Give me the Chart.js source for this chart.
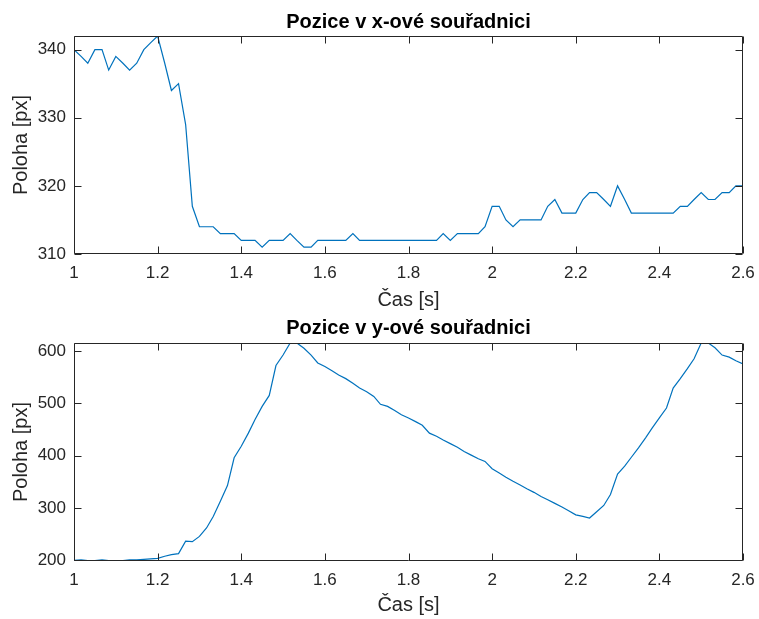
<!DOCTYPE html>
<html>
<head>
<meta charset="utf-8">
<script src="https://cdn.jsdelivr.net/npm/chart.js@4/dist/chart.umd.min.js"></script>
<style>
  html, body { margin: 0; padding: 0; background: #fff; }
  .panel { position: absolute; left: 0; }
  canvas { display: block; }
</style>
</head>
<body>
<div class="panel" style="top:0"><canvas id="chart-x" width="759" height="310"></canvas></div>
<div class="panel" style="top:310px"><canvas id="chart-y" width="759" height="309"></canvas></div>
<script>
// frame times [s]
const casS = [
  1.000, 1.017, 1.033, 1.050, 1.067, 1.083, 1.100, 1.117, 1.133, 1.150, 1.167, 1.183,
  1.200, 1.217, 1.233, 1.250, 1.267, 1.283, 1.300, 1.317, 1.333, 1.350, 1.367, 1.383,
  1.400, 1.417, 1.433, 1.450, 1.467, 1.483, 1.500, 1.517, 1.533, 1.550, 1.567, 1.583,
  1.600, 1.617, 1.633, 1.650, 1.667, 1.683, 1.700, 1.717, 1.733, 1.750, 1.767, 1.783,
  1.800, 1.817, 1.833, 1.850, 1.867, 1.883, 1.900, 1.917, 1.933, 1.950, 1.967, 1.983,
  2.000, 2.017, 2.033, 2.050, 2.067, 2.083, 2.100, 2.117, 2.133, 2.150, 2.167, 2.183,
  2.200, 2.217, 2.233, 2.250, 2.267, 2.283, 2.300, 2.317, 2.333, 2.350, 2.367, 2.383,
  2.400, 2.417, 2.433, 2.450, 2.467, 2.483, 2.500, 2.517, 2.533, 2.550, 2.567, 2.583,
  2.600
];

// position in x [px]
const polohaX = [
  340, 339, 338, 340, 340, 337, 339, 338, 337, 338, 340, 341,
  342, 338, 334, 335, 329, 317, 314, 314, 314, 313, 313, 313,
  312, 312, 312, 311, 312, 312, 312, 313, 312, 311, 311, 312,
  312, 312, 312, 312, 313, 312, 312, 312, 312, 312, 312, 312,
  312, 312, 312, 312, 312, 313, 312, 313, 313, 313, 313, 314,
  317, 317, 315, 314, 315, 315, 315, 315, 317, 318, 316, 316,
  316, 318, 319, 319, 318, 317, 320, 318, 316, 316, 316, 316,
  316, 316, 316, 317, 317, 318, 319, 318, 318, 319, 319, 320,
  320
];

// position in y [px]
const polohaY = [
  200, 201, 200, 200, 201, 200, 200, 200, 201, 201, 202, 203,
  204, 208, 211, 213, 237, 236, 246, 262, 284, 313, 343, 396,
  418, 443, 469, 494, 515, 572, 592, 615, 615, 605, 592, 577,
  570, 562, 554, 547, 538, 529, 522, 513, 498, 494, 486, 478,
  472, 465, 458, 443, 437, 430, 423, 416, 408, 401, 394, 389,
  375, 367, 359, 351, 344, 337, 330, 322, 316, 309, 302, 295,
  287, 284, 281, 293, 305, 326, 365, 380, 397, 415, 434, 453,
  472, 491, 529, 547, 566, 585, 615, 615, 606, 592, 588, 581,
  575
];

const casTicks = [1, 1.2, 1.4, 1.6, 1.8, 2, 2.2, 2.4, 2.6];
const xTicks = [310, 320, 330, 340];
const yTicks = [200, 300, 400, 500, 600];

const AXIS_COLOR = '#262626';
const FONT = '"Liberation Sans", Arial, Helvetica, sans-serif';

// MATLAB-like box with inward ticks on all four sides
const boxPlugin = {
  id: 'box',
  afterDatasetsDraw(chart) {
    const { ctx, chartArea: a, scales: { x, y } } = chart;
    const L = Math.round(a.left) + 0.5, R = Math.round(a.right) - 0.5;
    const T = Math.round(a.top) + 0.5, B = Math.round(a.bottom) - 0.5;
    const len = 7;
    ctx.save();
    ctx.strokeStyle = AXIS_COLOR;
    ctx.lineWidth = 1;
    ctx.beginPath();
    ctx.rect(L, T, R - L, B - T);
    x.ticks.forEach(t => {
      const px = Math.round(x.getPixelForValue(t.value)) + 0.5;
      ctx.moveTo(px, B); ctx.lineTo(px, B - len);
      ctx.moveTo(px, T); ctx.lineTo(px, T + len);
    });
    y.ticks.forEach(t => {
      const py = Math.round(y.getPixelForValue(t.value)) + 0.5;
      ctx.moveTo(L, py); ctx.lineTo(L + len, py);
      ctx.moveTo(R, py); ctx.lineTo(R - len, py);
    });
    ctx.stroke();
    ctx.restore();
  }
};

function makeChart(id, title, values, yMin, yMax, yTickValues, titlePad, xHeight, xTitlePad) {
  return new Chart(document.getElementById(id), {
    type: 'line',
    data: {
      datasets: [{
        data: casS.map((t, i) => ({ x: t, y: values[i] })),
        borderColor: '#0072BD',
        borderWidth: 1.2,
        pointRadius: 0,
        tension: 0,
        fill: false,
      }],
    },
    options: {
      responsive: false,
      animation: false,
      events: [],
      layout: { padding: { left: 0, right: 16, top: 0, bottom: 0 } },
      plugins: {
        legend: { display: false },
        tooltip: { enabled: false },
        title: {
          display: true,
          fullSize: false,
          text: title,
          color: '#000',
          font: { family: FONT, size: 20, weight: 'bold', lineHeight: 1 },
          padding: titlePad,
        },
      },
      scales: {
        x: {
          type: 'linear',
          min: 1,
          max: 2.6,
          afterBuildTicks: s => { s.ticks = casTicks.map(v => ({ value: v })); },
          afterFit: s => { s.height = xHeight; s.paddingLeft = 0; s.paddingRight = 0; },
          grid: { display: false, drawTicks: false },
          border: { display: false },
          ticks: {
            autoSkip: false,
            maxRotation: 0,
            padding: 9,
            color: AXIS_COLOR,
            font: { family: FONT, size: 17 },
            callback: v => String(Math.round(v * 10) / 10),
          },
          title: {
            display: true,
            text: 'Čas [s]',
            color: AXIS_COLOR,
            font: { family: FONT, size: 20, lineHeight: 1 },
            padding: { top: 0, bottom: xTitlePad },
          },
        },
        y: {
          min: yMin,
          max: yMax,
          afterBuildTicks: s => { s.ticks = yTickValues.map(v => ({ value: v })); },
          afterFit: s => { s.width = 74; },
          grid: { display: false, drawTicks: false },
          border: { display: false },
          ticks: {
            padding: 8,
            color: AXIS_COLOR,
            font: { family: FONT, size: 17 },
          },
          title: {
            display: true,
            text: 'Poloha [px]',
            color: AXIS_COLOR,
            font: { family: FONT, size: 20, lineHeight: 1 },
            padding: { top: 11, bottom: 0 },
          },
        },
      },
    },
    plugins: [boxPlugin],
  });
}

makeChart('chart-x', 'Pozice v x-ové souřadnici', polohaX, 310, 342, xTicks,
  { top: 12, bottom: 4 }, 56, 0);
makeChart('chart-y', 'Pozice v y-ové souřadnici', polohaY, 199, 615, yTicks,
  { top: 8, bottom: 5 }, 58, 4);
</script>
</body>
</html>
